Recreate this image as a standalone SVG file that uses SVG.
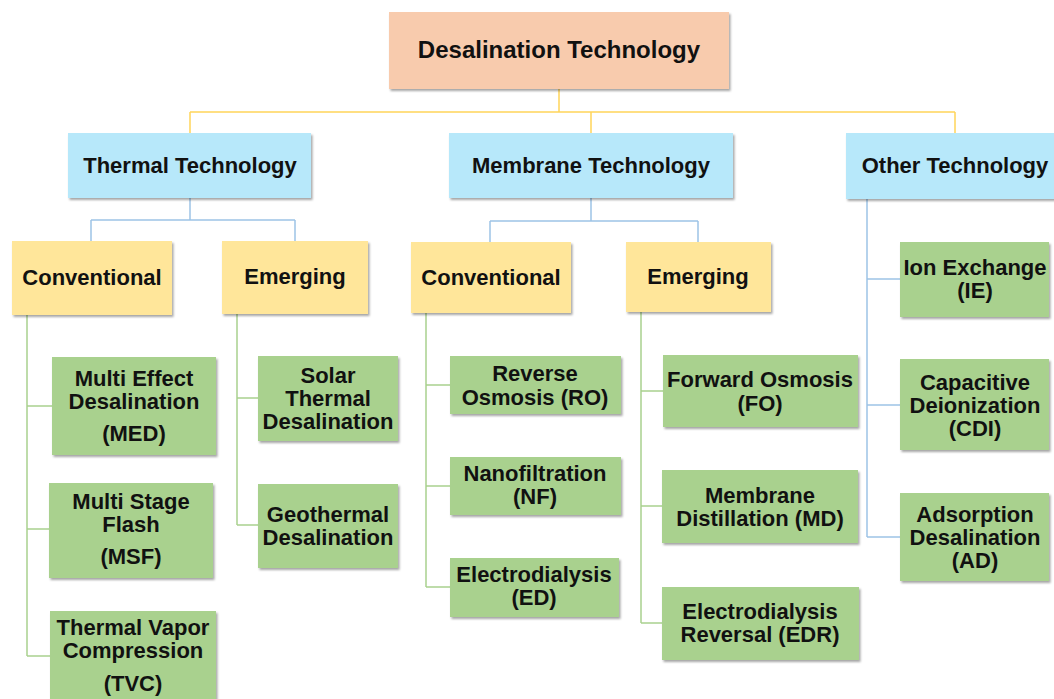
<svg xmlns="http://www.w3.org/2000/svg" width="1054" height="699" viewBox="0 0 1054 699">
<defs>
<filter id="sh" x="-10%" y="-10%" width="125%" height="130%">
<feDropShadow dx="1.5" dy="2" stdDeviation="1.2" flood-color="#000" flood-opacity="0.35"/>
</filter>
</defs>
<style>
text{font-family:"Liberation Sans",Arial,sans-serif;font-weight:bold;font-size:22px;fill:#111;text-anchor:middle}
.root rect{fill:#F8CBAD}
.l2 rect{fill:#B7E8FA}
.l3 rect{fill:#FFE69A}
.l4 rect{fill:#A9D18E}
rect{filter:url(#sh)}
.cy{stroke:#FFD55A;stroke-width:1.5;fill:none}
.cb{stroke:#9DC3E6;stroke-width:1.5;fill:none}
.cg{stroke:#A9D18E;stroke-width:1.5;fill:none}
</style>
<rect width="1054" height="699" fill="#fff" style="filter:none"/>
<g id="connectors">
<path class="cy" d="M559 89V112M190 112H955M190 112V133M591 112V133M955 112V133"/>
<path class="cb" d="M190 198V220M91 220H295M91 220V241M295 220V241"/>
<path class="cb" d="M591 198V221M490 221H698M490 221V242M698 221V242"/>
<path class="cb" d="M867 199V537M867 279H900M867 405H900M867 537H900"/>
<path class="cg" d="M27 315V656M27 406H52M27 529H49M27 656H50"/>
<path class="cg" d="M237 314V525M237 398H258M237 525H258"/>
<path class="cg" d="M426 313V587M426 385H450M426 486H450M426 587H450"/>
<path class="cg" d="M641 312V623M641 391H663M641 506H662M641 623H662"/>
</g>
<g id="root" class="root"><rect x="389" y="12" width="340" height="77"/><text x="559" y="58" style="font-size:24px">Desalination Technology</text></g>
<g id="thermal" class="l2"><rect x="68" y="133" width="243" height="65"/><text x="190" y="173">Thermal Technology</text></g>
<g id="membrane" class="l2"><rect x="449" y="133" width="284" height="65"/><text x="591" y="173">Membrane Technology</text></g>
<g id="other" class="l2"><rect x="846" y="133" width="212" height="66"/><text x="955" y="173">Other Technology</text></g>
<g id="th-conv" class="l3"><rect x="12" y="241" width="160" height="74"/><text x="92" y="285">Conventional</text></g>
<g id="th-emer" class="l3"><rect x="222" y="241" width="146" height="73"/><text x="295" y="284">Emerging</text></g>
<g id="mem-conv" class="l3"><rect x="411" y="242" width="160" height="71"/><text x="491" y="285">Conventional</text></g>
<g id="mem-emer" class="l3"><rect x="626" y="242" width="145" height="70"/><text x="698" y="284">Emerging</text></g>
<g id="med" class="l4"><rect x="52" y="357" width="164" height="98"/><text x="134" y="386">Multi Effect</text><text x="134" y="409">Desalination</text><text x="134" y="441">(MED)</text></g>
<g id="msf" class="l4"><rect x="49" y="483" width="164" height="95"/><text x="131" y="509">Multi Stage</text><text x="131" y="532">Flash</text><text x="131" y="564">(MSF)</text></g>
<g id="tvc" class="l4"><rect x="50" y="611" width="166" height="100"/><text x="133" y="635">Thermal Vapor</text><text x="133" y="658">Compression</text><text x="133" y="691">(TVC)</text></g>
<g id="solar" class="l4"><rect x="258" y="356" width="140" height="85"/><text x="328" y="383">Solar</text><text x="328" y="406">Thermal</text><text x="328" y="429">Desalination</text></g>
<g id="geo" class="l4"><rect x="258" y="484" width="140" height="84"/><text x="328" y="522">Geothermal</text><text x="328" y="545">Desalination</text></g>
<g id="ro" class="l4"><rect x="450" y="356" width="171" height="58"/><text x="535" y="381">Reverse</text><text x="535" y="405">Osmosis (RO)</text></g>
<g id="nf" class="l4"><rect x="450" y="457" width="171" height="58"/><text x="535" y="481">Nanofiltration</text><text x="535" y="504">(NF)</text></g>
<g id="ed" class="l4"><rect x="450" y="558" width="169" height="59"/><text x="534" y="582">Electrodialysis</text><text x="534" y="605">(ED)</text></g>
<g id="fo" class="l4"><rect x="663" y="355" width="195" height="72"/><text x="760" y="387">Forward Osmosis</text><text x="760" y="411">(FO)</text></g>
<g id="md" class="l4"><rect x="662" y="470" width="196" height="73"/><text x="760" y="503">Membrane</text><text x="760" y="526">Distillation (MD)</text></g>
<g id="edr" class="l4"><rect x="662" y="587" width="197" height="73"/><text x="760" y="619">Electrodialysis</text><text x="760" y="642">Reversal (EDR)</text></g>
<g id="ie" class="l4"><rect x="900" y="242" width="149" height="75"/><text x="975" y="275">Ion Exchange</text><text x="975" y="298">(IE)</text></g>
<g id="cdi" class="l4"><rect x="900" y="359" width="149" height="91"/><text x="975" y="390">Capacitive</text><text x="975" y="413">Deionization</text><text x="975" y="436">(CDI)</text></g>
<g id="ad" class="l4"><rect x="900" y="493" width="149" height="88"/><text x="975" y="522">Adsorption</text><text x="975" y="545">Desalination</text><text x="975" y="568">(AD)</text></g>
</svg>
